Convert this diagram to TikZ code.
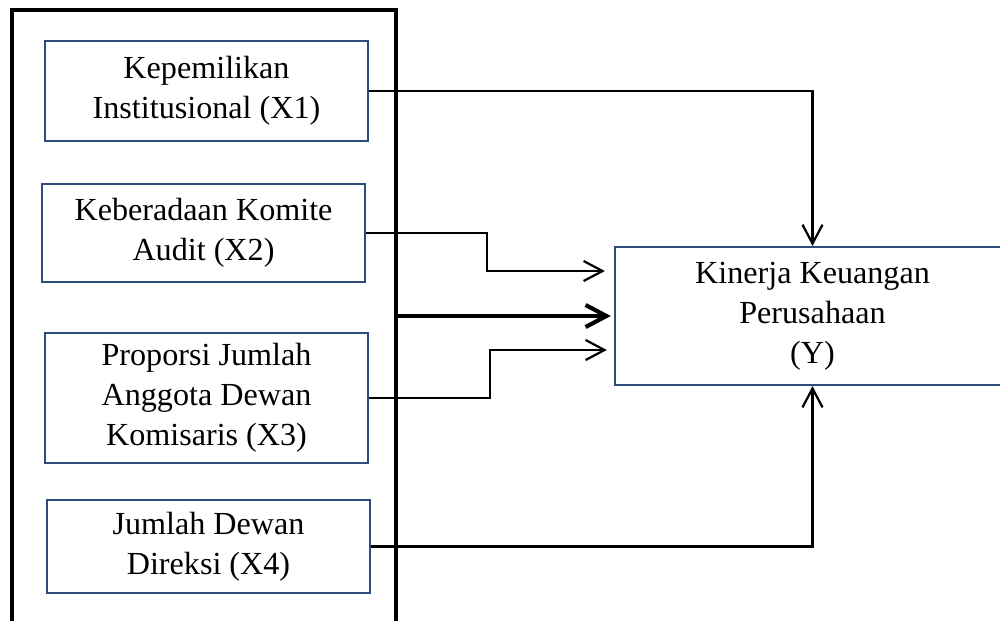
\documentclass[tikz,border=0pt]{standalone}
\usepackage{fontspec}
\setmainfont{Liberation Serif}
\usepackage{xcolor}
\usetikzlibrary{arrows.meta,positioning,calc}
\definecolor{boxblue}{RGB}{47,75,125}

\begin{document}
\begin{tikzpicture}[x=0.364pt,y=-0.364pt,
	var/.style={draw=boxblue,line width=0.8pt,align=center,inner sep=0pt,font=\fontsize{11.7}{14.5}\selectfont},
	link/.style={line width=0.8pt,-{Straight Barb[length=6.9pt,width=7.3pt]}},
	]

\path[use as bounding box,clip] (0,0) rectangle (1000,620);

% independent variables
\node[draw,line width=1.5pt,minimum width=139.8pt,minimum height=229.3pt] (grp) at (204,325) {};
\node[var,minimum width=117.6pt,minimum height=36.4pt] (x1) at (206.5,91) {Kepemilikan\\Institusional (X1)};
\node[var,minimum width=117.6pt,minimum height=35.7pt] (x2) at (203.5,233) {Keberadaan Komite\\Audit (X2)};
\node[var,minimum width=117.6pt,minimum height=47.3pt] (x3) at (206.5,398) {Proporsi Jumlah\\Anggota Dewan\\Komisaris (X3)};
\node[var,minimum width=117.6pt,minimum height=33.9pt] (x4) at (208.5,546.5) {Jumlah Dewan\\Direksi (X4)};

% dependent variable
\node[var,minimum width=143.8pt,minimum height=50.2pt] (kin) at (812.5,316) {Kinerja Keuangan\\Perusahaan\\(Y)};

\coordinate (t2) at ($(kin.west)+(-9,-45)$);
\coordinate (t0) at ($(kin.west)+(-3,0)$);
\coordinate (t3) at ($(kin.west)+(-7,34)$);

\draw[link] (x1.east) -| (kin.north);
\draw[link] (x2.east) -- ++(121,0) |- (t2);
\draw[line width=1.5pt,-{Straight Barb[length=7.6pt,width=8pt]}] (grp.east |- kin.west) -- (t0);
\draw[link] (x3.east) -- ++(121,0) |- (t3);
\draw[link] (x4.east) -| (kin.south);

\end{tikzpicture}
\end{document}
